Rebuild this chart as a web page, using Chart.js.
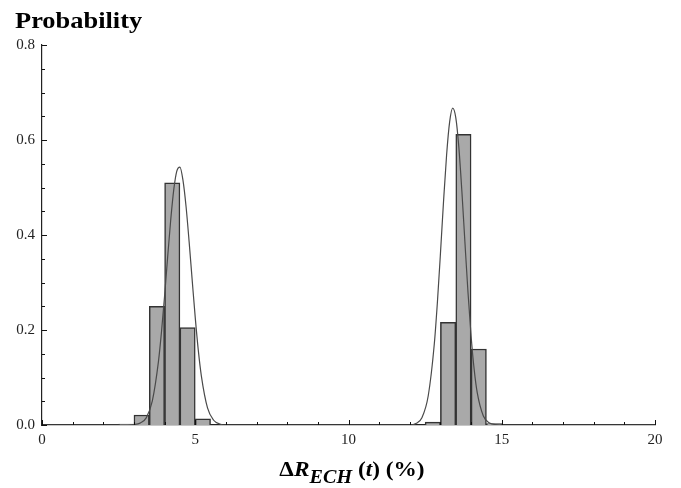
<!DOCTYPE html>
<html>
<head>
<meta charset="utf-8">
<script src="https://cdn.jsdelivr.net/npm/chart.js@4.4.1/dist/chart.umd.min.js"></script>
<style>
    body { margin: 0; background: #fff; }
    #wrap { position: relative; width: 681px; height: 488px; }
    #titulo {
        position: absolute; left: 15px; top: 7px; line-height: 26px;
        font-family: "Liberation Serif", "DejaVu Serif", serif;
        font-weight: bold; font-size: 24px; color: #000;
        transform: scaleX(1.1); transform-origin: left top;
    }
    #eixoX {
        position: absolute; left: 0; width: 704px; top: 456px; text-align: center; line-height: 26px;
        font-family: "Liberation Serif", "DejaVu Serif", serif;
        font-weight: bold; font-size: 22px; color: #000;
        transform: scaleX(1.06); transform-origin: 352px top;
    }
    #eixoX sub { font-size: 19px; line-height: 0; vertical-align: -7px; font-style: italic; }
</style>
</head>
<body>
<div id="wrap">
    <canvas id="grafico" width="681" height="488"></canvas>
    <div id="titulo">Probability</div>
    <div id="eixoX">Δ<i>R</i><sub>ECH</sub> (<i>t</i>) (%)</div>
</div>
<script>
// histogram bins (centres, width 0.5) and probabilities
const binCenters = [2.75, 3.25, 3.75, 4.25, 4.75, 5.25, 12.75, 13.25, 13.75, 14.25, 14.75];
const binProbs   = [0.002, 0.021, 0.250, 0.510, 0.205, 0.013, 0.006, 0.216, 0.612, 0.160, 0.003];

// fitted curve
const curveX = [0, 2.8, 3.0, 3.2, 3.4, 3.6, 3.8, 3.9, 4.0, 4.1, 4.2, 4.3, 4.4, 4.5, 4.6, 4.7, 4.8, 4.9, 5.0, 5.1, 5.2, 5.4, 5.6, 5.8, 6.0, 6.3,
                12.0, 12.2, 12.4, 12.6, 12.8, 12.9, 13.0, 13.1, 13.2, 13.3, 13.4, 13.5, 13.6, 13.7, 13.8, 13.9, 14.0, 14.1, 14.2, 14.4, 14.6, 14.8, 15.1, 20];
const curveY = [0, 0, 0.001, 0.004, 0.015, 0.051, 0.134, 0.197, 0.272, 0.354, 0.432, 0.496, 0.535, 0.543, 0.515, 0.460, 0.386, 0.305, 0.226, 0.157, 0.103, 0.036, 0.010, 0.002, 0, 0,
                0, 0.003, 0.016, 0.061, 0.171, 0.258, 0.361, 0.470, 0.568, 0.638, 0.667, 0.647, 0.585, 0.491, 0.383, 0.278, 0.187, 0.117, 0.068, 0.019, 0.004, 0.001, 0, 0];

const xTicks = [0, 5, 10, 15, 20];
const yTicks = [0, 0.2, 0.4, 0.6, 0.8];

const fonteTicks = { family: "'Liberation Serif', 'DejaVu Serif', serif", size: 15 };

// Mathematica-style ticks pointing into the plot
const marcasInternas = {
    id: 'marcasInternas',
    afterDraw(chart) {
        const { ctx, chartArea, scales } = chart;
        const x = scales.x, y = scales.y;
        ctx.save();
        ctx.strokeStyle = '#111';
        ctx.lineWidth = 1;
        ctx.beginPath();
        for (let v = 0; v <= 20; v++) {
            const px = Math.round(x.getPixelForValue(v)) + 0.5;
            const len = v % 5 === 0 ? 5 : 3;
            ctx.moveTo(px, chartArea.bottom);
            ctx.lineTo(px, chartArea.bottom - len);
        }
        for (let k = 0; k <= 16; k++) {
            const py = Math.round(y.getPixelForValue(k * 0.05)) + 0.5;
            const len = k % 4 === 0 ? 5 : 3;
            ctx.moveTo(chartArea.left, py);
            ctx.lineTo(chartArea.left + len, py);
        }
        ctx.stroke();
        ctx.restore();
    }
};

new Chart(document.getElementById('grafico'), {
    type: 'bar',
    data: {
        datasets: [
            {
                type: 'line',
                data: curveX.map((v, i) => ({ x: v, y: curveY[i] })),
                borderColor: '#4a4a4a',
                borderWidth: 1.2,
                pointRadius: 0,
                cubicInterpolationMode: 'monotone',
                fill: false,
                order: 0
            },
            {
                type: 'bar',
                data: binCenters.map((v, i) => ({ x: v, y: binProbs[i] })),
                backgroundColor: '#a9a9a9',
                borderColor: '#333',
                borderWidth: 1.5,
                barPercentage: 1,
                categoryPercentage: 1,
                order: 1
            }
        ]
    },
    options: {
        responsive: false,
        animation: false,
        layout: { padding: { left: 0, top: 45, right: 26, bottom: 0 } },
        plugins: { legend: { display: false }, tooltip: { enabled: false } },
        scales: {
            x: {
                type: 'linear',
                min: 0, max: 20,
                offset: false,
                grid: { display: false, drawTicks: false },
                border: { display: true, color: '#222', width: 1.2 },
                afterBuildTicks: s => { s.ticks = xTicks.map(v => ({ value: v })); },
                afterFit: s => { s.height = 63; },
                ticks: { font: fonteTicks, color: '#222', padding: 6, maxRotation: 0 }
            },
            y: {
                min: 0, max: 0.8,
                grid: { display: false, drawTicks: false },
                border: { display: true, color: '#222', width: 1.2 },
                afterBuildTicks: s => { s.ticks = yTicks.map(v => ({ value: v })); },
                afterFit: s => { s.width = 42; },
                ticks: { font: fonteTicks, color: '#222', padding: 7, callback: v => v.toFixed(1) }
            }
        }
    },
    plugins: [marcasInternas]
});
</script>
</body>
</html>
